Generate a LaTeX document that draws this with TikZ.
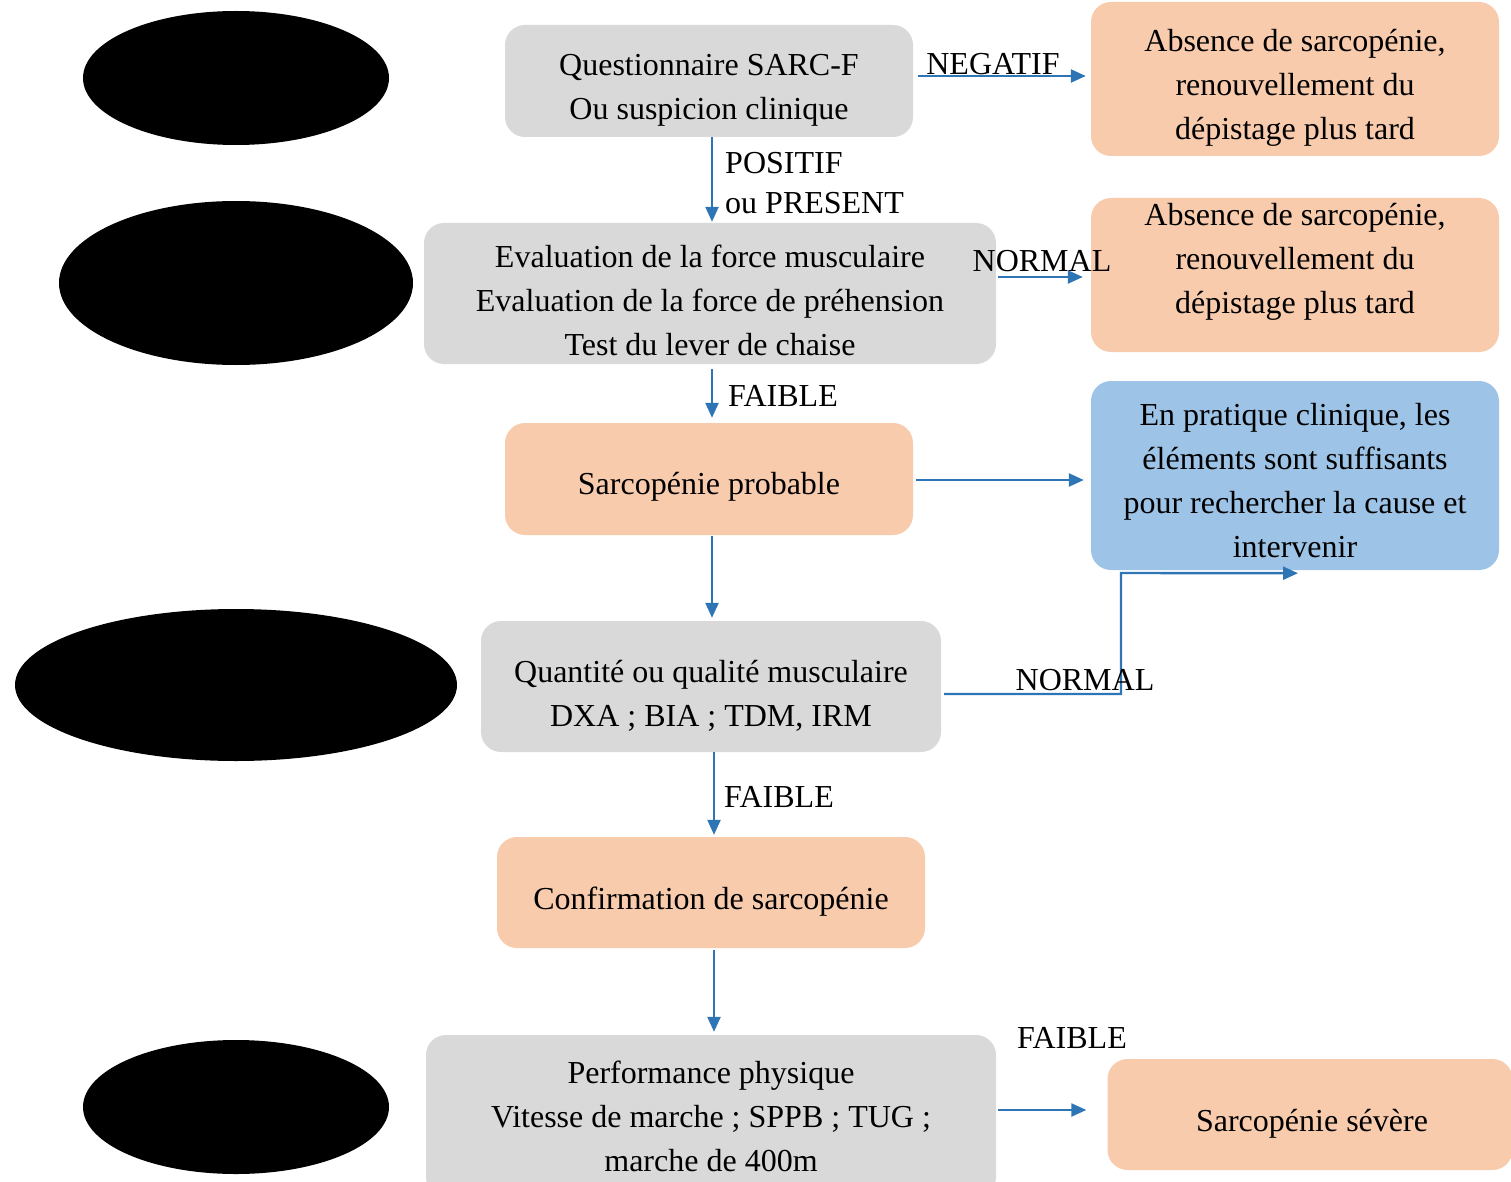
\documentclass[tikz,border=0pt]{standalone}
\usepackage{fontspec}
\setmainfont{Liberation Serif}
\usetikzlibrary{arrows.meta,calc}
\definecolor{boxgray}{HTML}{D9D9D9}
\definecolor{boxorange}{HTML}{F8CBAD}
\definecolor{boxblue}{HTML}{9DC3E6}
\definecolor{arrowblue}{HTML}{2E75B6}
\tikzset{
  box/.style={rounded corners=20pt, inner sep=0pt},
  gbox/.style={box, fill=boxgray},
  obox/.style={box, fill=boxorange},
  bbox/.style={box, fill=boxblue},
  txt/.style={inner sep=0pt, align=center, font=\fontsize{32}{44}\selectfont},
  conn/.style={draw=arrowblue, line width=2.4pt, -{Triangle[length=15pt,width=13pt]}},
}
\begin{document}
\begin{tikzpicture}[x=1pt,y=-1pt]
\useasboundingbox (0,0) rectangle (1511,1182);
% black ellipses
\fill[black] (236,78) ellipse [x radius=153, y radius=67];
\fill[black] (236,283) ellipse [x radius=177, y radius=82];
\fill[black] (236,685) ellipse [x radius=221, y radius=76];
\fill[black] (236,1107) ellipse [x radius=153, y radius=67];
% main boxes
\node[gbox, minimum width=408pt, minimum height=112pt] (q) at (709,81) {};
\node[txt] (qt1) at (709,90) {Questionnaire SARC-F\\Ou suspicion clinique};
\node[gbox, minimum width=572pt, minimum height=141pt] (ev) at (710,293.5) {};
\node[txt] (evt) at (710,300) {Evaluation de la force musculaire\\Evaluation de la force de préhension\\Test du lever de chaise};
\node[obox, minimum width=408pt, minimum height=112pt] (sp) at (709,479) {};
\node[txt] (spt) at (709,487) {Sarcopénie probable};
\node[gbox, minimum width=460pt, minimum height=131pt] (qt) at (711,686.5) {};
\node[txt] (qtt) at (711,696) {Quantité ou qualité musculaire\\DXA ; BIA ; TDM, IRM};
\node[obox, minimum width=428pt, minimum height=111pt] (cf) at (711,892.5) {};
\node[txt] (cft) at (711,901.5) {Confirmation de sarcopénie};
\node[gbox, minimum width=570pt, minimum height=162pt] (pf) at (711,1116) {};
\node[txt] (pft) at (711,1116.5) {Performance physique\\Vitesse de marche ; SPPB ; TUG ;\\marche de 400m};
% right boxes
\node[obox, minimum width=408pt, minimum height=154pt] (r1) at (1295,79) {};
\node[txt] (r1t) at (1295,88) {Absence de sarcopénie,\\renouvellement du\\dépistage plus tard};
\node[obox, minimum width=408pt, minimum height=154pt] (r2) at (1295,275) {};
\node[txt] (r2t) at (1295,262) {Absence de sarcopénie,\\renouvellement du\\dépistage plus tard};
\node[bbox, minimum width=408pt, minimum height=189pt] (r3) at (1295,475.5) {};
\node[txt] (r3t) at (1295,481) {En pratique clinique, les\\éléments sont suffisants\\pour rechercher la cause et\\intervenir};
\node[obox, minimum width=405pt, minimum height=111pt] (r4) at (1310,1114.5) {};
\node[txt] (r4t) at (1312,1123.5) {Sarcopénie sévère};
% connectors
\draw[conn] ([xshift=5pt]q.east |- 0,76) -- ([xshift=-5pt]r1.west |- 0,76);
\draw[conn] ([xshift=3pt]q.south) -- ([xshift=2pt,yshift=1pt]ev.north);
\draw[conn] ([xshift=2pt]ev.east |- 0,277) -- ([xshift=-8pt]r2.west |- 0,277);
\draw[conn] ([xshift=2pt,yshift=-5pt]ev.south) -- ([xshift=3pt,yshift=5pt]sp.north);
\draw[conn] ([xshift=3pt]sp.east |- 0,480) -- ([xshift=-7pt]r3.west |- 0,480);
\draw[conn] ([xshift=3pt,yshift=-1pt]sp.south) -- ([xshift=1pt,yshift=3pt]qt.north);
\coordinate (tipr3) at ($(r3.south)+(3,3)$);
\draw[conn] ([xshift=3pt]qt.east |- 0,694) -- (1121,694) -- (1121,573) -- (tipr3);
\draw[conn] ([xshift=3pt]qt.south) -- ([xshift=3pt,yshift=2pt]cf.north);
\draw[conn] ([xshift=3pt,yshift=-2pt]cf.south) -- ([xshift=3pt,yshift=3pt]pf.north);
\draw[conn] ([xshift=2pt]pf.east |- 0,1110) -- ([xshift=-21pt]r4.west |- 0,1110);
% labels
\node[txt] (l1) at (993,64) {NEGATIF};
\node[txt, anchor=west, align=left, font=\fontsize{32}{40}\selectfont] (l2) at (725,183) {POSITIF\\ou PRESENT};
\node[txt] (l3) at (1042,261) {NORMAL};
\node[txt] (l4) at (783,396) {FAIBLE};
\node[txt] (l5) at (1085,680) {NORMAL};
\node[txt] (l6) at (779,797) {FAIBLE};
\node[txt] (l7) at (1072,1038) {FAIBLE};
\end{tikzpicture}
\end{document}
